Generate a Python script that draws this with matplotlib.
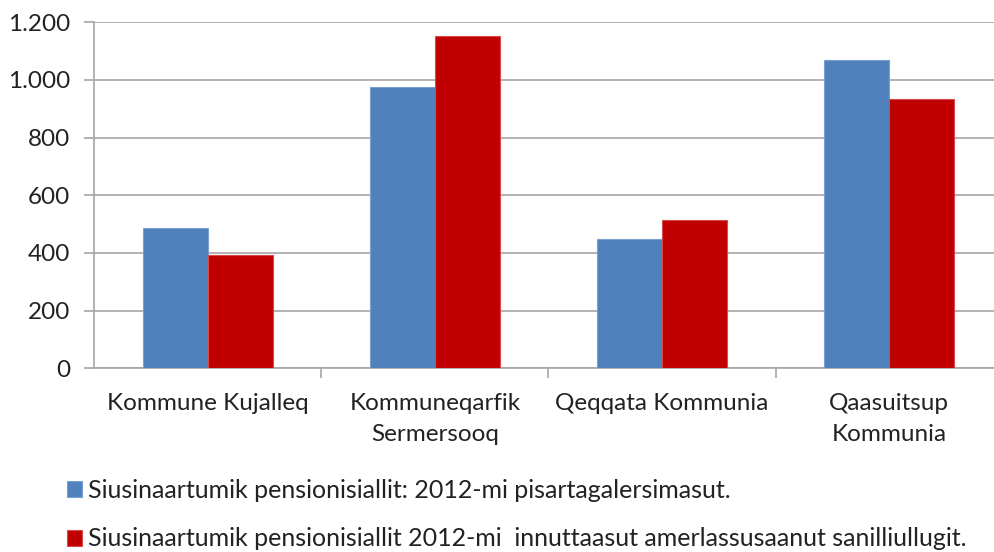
#!/usr/env/bin python

# Pensioner bar chart, two series per municipality

import numpy as np
import matplotlib.pyplot as plt
import matplotlib.transforms as mtransforms
from matplotlib.ticker import FuncFormatter, FixedLocator

plt.rcParams['font.family'] = ['Lato', 'DejaVu Sans']

# Data
categories = ['Kommune Kujalleq', 'Kommuneqarfik\nSermersooq',
              'Qeqqata Kommunia', 'Qaasuitsup\nKommunia']
series_names = ['Siusinaartumik pensionisiallit: 2012-mi pisartagalersimasut.',
                'Siusinaartumik pensionisiallit 2012-mi  innuttaasut amerlassusaanut sanilliullugit.']
pisartagalersimasut = [485, 975, 449, 1068]
sanilliullugit = [392, 1154, 513, 935]
yticks = [0, 200, 400, 600, 800, 1000, 1200]

blue = '#4F81BD'
red = '#C00000'
grid = '#A6A6A6'
fs = 17.5

fig = plt.figure(figsize=(9.94, 5.52), dpi=100)
ax = fig.add_axes([94/994, 1 - 368.3/552, 1 - 94/994, 346/552])

x = np.arange(len(categories))
w = 0.286
b1 = ax.bar(x - w/2, pisartagalersimasut, w, color=blue, edgecolor='#7B9FD0',
            linewidth=0.8, label=series_names[0], zorder=3)
b2 = ax.bar(x + w/2, sanilliullugit, w, color=red, edgecolor='#D84A4A',
            linewidth=0.8, label=series_names[1], zorder=3)

# Axes limits
ax.set_ylim(0, 1200)
ax.set_xlim(-0.5, 3.5 - 9/227.3)

# Y axis
ax.set_yticks(yticks)
ax.yaxis.set_major_formatter(FuncFormatter(lambda v, p: f'{int(v):,}'.replace(',', '.')))
ax.grid(axis='y', color=grid, linewidth=1.2, zorder=0)
ax.tick_params(axis='y', length=7, width=1.2, color=grid, labelsize=fs, pad=10,
               labelcolor='#222222')

# X axis: ticks at boundaries, category labels as text so line spacing holds
ax.set_xticks(x)
ax.set_xticklabels([])
ax.tick_params(axis='x', which='major', length=0)
ax.xaxis.set_minor_locator(FixedLocator([0.5, 1.5, 2.5]))
ax.tick_params(axis='x', which='minor', length=7, width=1.2, color=grid)
trans = mtransforms.blended_transform_factory(ax.transData, ax.transAxes)
for xi, cat in zip(x, categories):
    ax.text(xi, -25/346, cat, transform=trans, ha='center', va='top',
            fontsize=fs, color='#222222', linespacing=1.55, multialignment='center')

for s in ['top', 'right']:
    ax.spines[s].set_visible(False)
for s in ['left', 'bottom']:
    ax.spines[s].set_color(grid)
    ax.spines[s].set_linewidth(1.2)

# Legend
fig.legend(handles=[b1, b2], loc='upper left', bbox_to_anchor=(67/994, 1 - 479/552),
           frameon=False, fontsize=18, handlelength=0.6, handleheight=0.6,
           handletextpad=0.25, labelspacing=1.02, labelcolor='#222222',
           borderaxespad=0, borderpad=0)

plt.savefig('out.png', dpi=100)
